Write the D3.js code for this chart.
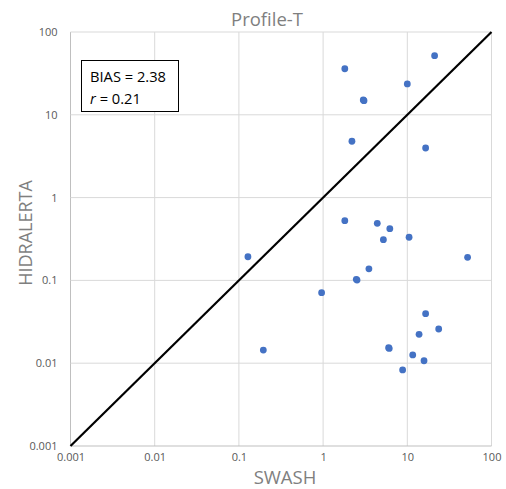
<!DOCTYPE html>
<html>
<head>
<meta charset="utf-8">
<script src="https://cdn.jsdelivr.net/npm/d3@7"></script>
<style>
  body { margin: 0; background: #fff; }
  text { font-family: "Open Sans", "Liberation Sans", sans-serif; }
</style>
</head>
<body>
<div id="chart"></div>
<script>
// data (a few points sit almost on top of each other)
var swash = [21.1, 1.81, 10, 3.0, 3.06, 2.2, 16.5, 1.81, 4.4, 6.2, 5.2, 10.5, 0.128,
             52, 3.5, 2.48, 2.53, 0.96, 16.5, 23.6, 13.8, 6.0, 6.1, 0.195, 11.6, 15.8, 8.8];
var hidralerta = [51.7, 36, 23.6, 15.1, 14.8, 4.79, 3.97, 0.526, 0.489, 0.421, 0.31, 0.332, 0.193,
                  0.19, 0.138, 0.103, 0.101, 0.071, 0.0396, 0.0259, 0.0223, 0.0154, 0.0151, 0.0144, 0.0126, 0.0107, 0.0083];
var tickValues = [0.001, 0.01, 0.1, 1, 10, 100];
var tickLabels = ["0.001", "0.01", "0.1", "1", "10", "100"];
var statLines = ["BIAS = 2.38", "r = 0.21"];

var width = 506, height = 489;
var plotLeft = 70.5, plotRight = 491.5, plotTop = 32, plotBottom = 446;

var svg = d3.select("#chart").append("svg")
    .attr("width", width)
    .attr("height", height);

var x = d3.scaleLog().domain([0.001, 100]).range([plotLeft, plotRight]);
var y = d3.scaleLog().domain([0.001, 100]).range([plotBottom, plotTop]);

// gridlines
svg.append("g").selectAll("line")
    .data(tickValues)
    .enter().append("line")
    .attr("x1", function(d){ return x(d); })
    .attr("x2", function(d){ return x(d); })
    .attr("y1", plotTop).attr("y2", plotBottom)
    .attr("stroke", function(d, i){ return i == 0 ? "#bfbfbf" : "#d9d9d9"; })
    .attr("stroke-width", 1);

svg.append("g").selectAll("line")
    .data(tickValues)
    .enter().append("line")
    .attr("y1", function(d){ return y(d); })
    .attr("y2", function(d){ return y(d); })
    .attr("x1", plotLeft).attr("x2", plotRight)
    .attr("stroke", function(d, i){ return i == 0 ? "#bfbfbf" : "#d9d9d9"; })
    .attr("stroke-width", 1);

// axes (labels only)
var xAxis = d3.axisBottom(x).tickValues(tickValues).tickSize(0)
    .tickFormat(function(d, i){ return tickLabels[i]; });
var gx = svg.append("g").attr("transform", "translate(0," + plotBottom + ")").call(xAxis);
gx.select(".domain").remove();
gx.selectAll("text").attr("dy", "1.05em").attr("font-size", 11)
    .attr("fill", "#595959").attr("font-family", "Open Sans, sans-serif");

var yAxis = d3.axisLeft(y).tickValues(tickValues).tickSize(0)
    .tickFormat(function(d, i){ return tickLabels[i]; });
var gy = svg.append("g").attr("transform", "translate(" + (plotLeft - 13) + ",0)").call(yAxis);
gy.select(".domain").remove();
gy.selectAll("text").attr("x", 0).attr("font-size", 11)
    .attr("fill", "#595959").attr("font-family", "Open Sans, sans-serif");

// 1:1 line
svg.append("line")
    .attr("x1", x(0.001)).attr("y1", y(0.001))
    .attr("x2", x(100)).attr("y2", y(100))
    .attr("stroke", "#000")
    .attr("stroke-width", 2.2);

// points
svg.append("g").selectAll("circle")
    .data(swash)
    .enter().append("circle")
    .attr("cx", function(d){ return x(d); })
    .attr("cy", function(d, i){ return y(hidralerta[i]); })
    .attr("r", 3.4)
    .attr("fill", "#4472C4");

// title and axis titles
svg.append("text")
    .attr("x", 267).attr("y", 26)
    .attr("text-anchor", "middle")
    .attr("font-size", 18.5)
    .attr("fill", "#7f7f7f")
    .text("Profile-T");

svg.append("text")
    .attr("x", 285).attr("y", 484)
    .attr("text-anchor", "middle")
    .attr("font-size", 18.5)
    .attr("fill", "#7f7f7f")
    .text("SWASH");

svg.append("text")
    .attr("transform", "translate(32,233) rotate(-90)")
    .attr("text-anchor", "middle")
    .attr("font-size", 18)
    .attr("fill", "#7f7f7f")
    .text("HIDRALERTA");

// stats box
svg.append("rect")
    .attr("x", 81.5).attr("y", 60.5)
    .attr("width", 97).attr("height", 51)
    .attr("fill", "#fff")
    .attr("stroke", "#000")
    .attr("stroke-width", 1);

svg.append("text")
    .attr("x", 90).attr("y", 82)
    .attr("font-size", 14.7)
    .attr("fill", "#000")
    .text(statLines[0]);

var rText = svg.append("text")
    .attr("x", 90).attr("y", 104)
    .attr("font-size", 14.7)
    .attr("fill", "#000");
rText.append("tspan").attr("font-style", "italic").text(statLines[1].slice(0, 1));
rText.append("tspan").text(statLines[1].slice(1));
</script>
</body>
</html>
